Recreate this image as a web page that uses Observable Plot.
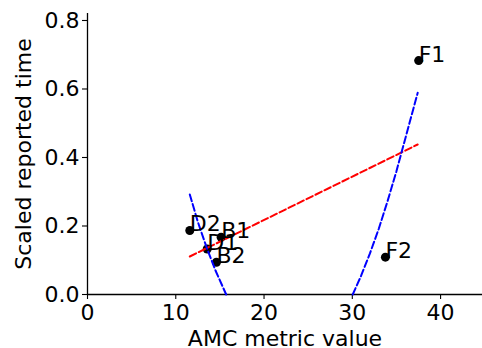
<!DOCTYPE html>
<html>
<head>
<meta charset="utf-8">
<script src="https://cdn.jsdelivr.net/npm/d3@7"></script>
<script src="https://cdn.jsdelivr.net/npm/@observablehq/plot@0.6"></script>
<style>
  html, body { margin: 0; padding: 0; background: white; }
  #chart svg { display: block; }
</style>
</head>
<body>
<div id="chart"></div>
<script>
// Data points (AMC metric value, scaled reported time)
const labels = ["F1", "F2", "D2", "D1", "B1", "B2"];
const amcValues = [37.52, 33.75, 11.59, 13.56, 15.14, 14.61];
const reportedTimes = [0.683, 0.109, 0.187, 0.133, 0.167, 0.094];

// Red dashed linear fit (end points)
const linearX = [11.59, 37.41];
const linearY = [0.111, 0.438];

// Blue dashed quadratic fit, read as two visible segments (clipped at y = 0)
const quadSegment = ["left", "left", "left", "left", "left",
                     "right", "right", "right", "right", "right", "right", "right", "right"];
const quadX = [11.59, 12.5, 13.5, 14.5, 15.71,
               30.05, 31, 32, 33, 34, 35, 36, 37.41];
const quadY = [0.292, 0.212, 0.137, 0.070, 0.0,
               0.0, 0.055, 0.12, 0.192, 0.273, 0.36, 0.455, 0.589];

const xTicks = [0, 10, 20, 30, 40];
const yTicks = [0, 0.2, 0.4, 0.6, 0.8];

const points = labels.map((l, i) => ({label: l, x: amcValues[i], y: reportedTimes[i]}));
const linear = linearX.map((x, i) => ({x, y: linearY[i]}));
const quad = quadX.map((x, i) => ({x, y: quadY[i], seg: quadSegment[i]}));

const chart = Plot.plot({
  width: 482,
  height: 348,
  marginLeft: 87,
  marginRight: 0,
  marginTop: 13,
  marginBottom: 54,
  style: {fontFamily: "DejaVu Sans", fontSize: "22px", background: "white", color: "black"},
  x: {domain: [0, 44.75]},
  y: {domain: [0, 0.8204]},
  marks: [
    Plot.axisX({ticks: xTicks, tickFormat: d => String(d), tickSize: 5, tickPadding: 5,
      label: "AMC metric value", labelAnchor: "center", labelOffset: 51, labelArrow: "none",
      stroke: "black", strokeWidth: 1.1}),
    Plot.axisY({ticks: yTicks, tickFormat: d => d.toFixed(1), tickSize: 5, tickPadding: 3,
      label: "Scaled reported time", labelAnchor: "center", labelOffset: 72, labelArrow: "none",
      stroke: "black", strokeWidth: 1.1}),
    Plot.ruleY([0], {stroke: "black", strokeWidth: 1.3}),
    Plot.ruleX([0], {stroke: "black", strokeWidth: 1.3}),
    Plot.dot(points, {x: "x", y: "y", r: 4.5, fill: "black", stroke: "none"}),
    Plot.line(linear, {x: "x", y: "y", stroke: "#ff0000", strokeWidth: 2, strokeDasharray: "7,3"}),
    Plot.line(quad, {x: "x", y: "y", z: "seg", stroke: "#0000ff", strokeWidth: 2, strokeDasharray: "7,3"}),
    Plot.text(points, {x: "x", y: "y", text: "label", textAnchor: "start", lineAnchor: "bottom",
      dy: 1, fontSize: 22, fill: "black"})
  ]
});
document.getElementById("chart").appendChild(chart);
</script>
</body>
</html>
